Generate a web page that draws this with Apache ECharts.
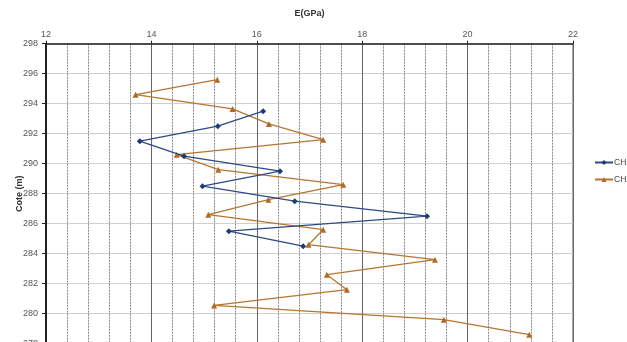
<!DOCTYPE html>
<html>
<head>
<meta charset="utf-8">
<script src="https://cdn.jsdelivr.net/npm/echarts@6/dist/echarts.min.js"></script>
<style>
  html, body { margin: 0; padding: 0; background: #fff; }
  #chart { width: 627px; height: 342px; }
</style>
</head>
<body>
<div id="chart"></div>
<script>
// Modulus E (GPa) measured against elevation (Cote, m) for two boreholes
const seriesNames = ['CH1', 'CH2'];

const ch1E    = [16.12, 15.26, 13.78, 14.62, 16.44, 14.97, 16.72, 19.23, 15.47, 16.88];
const ch1Cote = [293.5, 292.5, 291.5, 290.5, 289.5, 288.5, 287.5, 286.5, 285.5, 284.5];

const ch2E    = [15.25, 13.70, 15.54, 16.23, 17.26, 14.48, 15.27, 17.64, 16.22, 15.08,
                 17.26, 16.98, 19.38, 17.33, 17.71, 15.19, 19.55, 21.17];
const ch2Cote = [295.6, 294.6, 293.65, 292.65, 291.6, 290.6, 289.6, 288.6, 287.6, 286.6,
                 285.6, 284.6, 283.6, 282.6, 281.6, 280.55, 279.6, 278.6];

const xTicks = [12, 14, 16, 18, 20, 22];
const yTicks = [278, 280, 282, 284, 286, 288, 290, 292, 294, 296, 298];

const pairs = (xs, ys) => xs.map((x, i) => [x, ys[i]]);

const chart = echarts.init(document.getElementById('chart'), null, { renderer: 'canvas' });
const fontFamily = 'Liberation Sans, Arial, sans-serif';
const labelFont = { color: '#555', fontSize: 9, fontFamily };

chart.setOption({
  animation: false,
  backgroundColor: '#fff',
  grid: { left: 46, top: 43.7, width: 527, height: 300, containLabel: false,
          outerBoundsMode: 'none',
          show: true, borderColor: '#555', borderWidth: 1 },
  legend: {
    orient: 'vertical', left: 594, top: 158, itemGap: 8, padding: 0,
    itemWidth: 18, itemHeight: 6,
    textStyle: { color: '#444', fontSize: 8.5, fontFamily, padding: [0, 0, 0, -4] },
    data: seriesNames
  },
  xAxis: {
    type: 'value', position: 'top',
    min: xTicks[0], max: xTicks[xTicks.length - 1], interval: 2,
    name: 'E(GPa)', nameLocation: 'middle', nameGap: 26, nameMoveOverlap: false,
    nameTextStyle: { color: '#333', fontSize: 9, fontWeight: 'bold', fontFamily },
    axisLine: { show: true, lineStyle: { color: '#222', width: 1.5 } },
    axisTick: { show: true, inside: false, length: 3, lineStyle: { color: '#222' } },
    axisLabel: Object.assign({ margin: 5, formatter: v => xTicks.includes(v) ? String(v) : '' }, labelFont),
    splitLine: { show: true, lineStyle: { color: '#666', width: 1 } },
    minorTick: { show: false, splitNumber: 5 },
    minorSplitLine: { show: true, lineStyle: { color: '#888', width: 1, type: [2, 1] } }
  },
  yAxis: {
    type: 'value',
    min: yTicks[0], max: yTicks[yTicks.length - 1], interval: 2,
    name: 'Cote (m)', nameLocation: 'middle', nameGap: 22, nameRotate: 90, nameMoveOverlap: false,
    nameTextStyle: { color: '#333', fontSize: 9, fontWeight: 'bold', fontFamily },
    axisLine: { show: true, lineStyle: { color: '#222', width: 2 } },
    axisTick: { show: true, inside: false, length: 4, lineStyle: { color: '#222' } },
    axisLabel: Object.assign({ margin: 8 }, labelFont),
    splitLine: { show: true, lineStyle: { color: '#cfcfcf', width: 1 } }
  },
  series: [
    {
      name: seriesNames[0], type: 'line',
      data: pairs(ch1E, ch1Cote),
      symbol: 'diamond', symbolSize: 6,
      lineStyle: { color: '#2d4a86', width: 1.3 },
      itemStyle: { color: '#1f3a78' },
      z: 3
    },
    {
      name: seriesNames[1], type: 'line',
      data: pairs(ch2E, ch2Cote),
      symbol: 'triangle', symbolSize: 6,
      lineStyle: { color: '#b57631', width: 1.3 },
      itemStyle: { color: '#b06a22' },
      z: 2
    }
  ]
});
</script>
</body>
</html>
